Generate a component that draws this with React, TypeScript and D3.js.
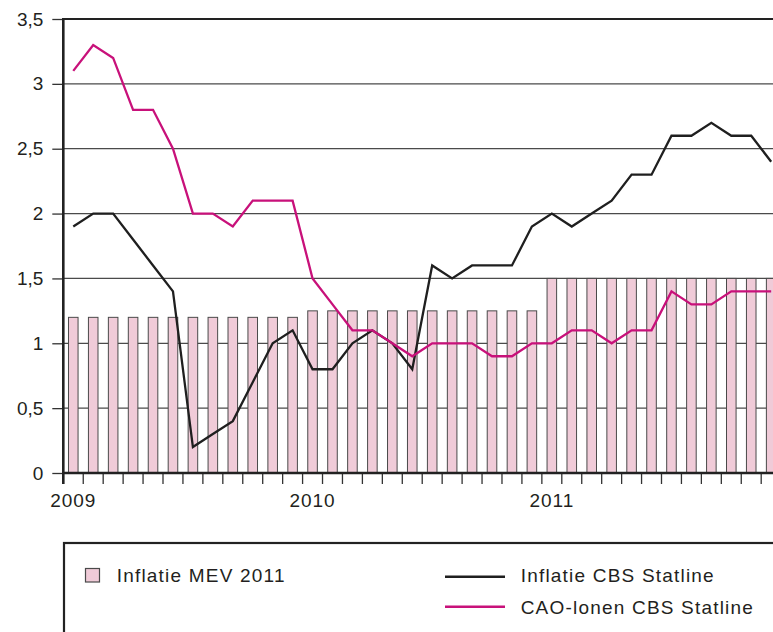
import React, { useEffect, useRef } from 'react';
import * as d3 from 'd3';

const years = ['2009', '2010', '2011'];
const monthNames = ['jan', 'feb', 'mrt', 'apr', 'mei', 'jun', 'jul', 'aug', 'sep', 'okt', 'nov', 'dec'];
const months = years.flatMap(y => monthNames.map(m => `${m} ${y}`));

// bars: Inflatie MEV 2011
const inflatieMev = [
  1.2, 1.2, 1.2, 1.2, 1.2, 1.2, 1.2, 1.2, 1.2, 1.2, 1.2, 1.2,
  1.25, 1.25, 1.25, 1.25, 1.25, 1.25, 1.25, 1.25, 1.25, 1.25, 1.25, 1.25,
  1.5, 1.5, 1.5, 1.5, 1.5, 1.5, 1.5, 1.5, 1.5, 1.5, 1.5, 1.5
];
// black line: Inflatie CBS Statline
const inflatieCbs = [
  1.9, 2.0, 2.0, 1.8, 1.6, 1.4, 0.2, 0.3, 0.4, 0.7, 1.0, 1.1,
  0.8, 0.8, 1.0, 1.1, 1.0, 0.8, 1.6, 1.5, 1.6, 1.6, 1.6, 1.9,
  2.0, 1.9, 2.0, 2.1, 2.3, 2.3, 2.6, 2.6, 2.7, 2.6, 2.6, 2.4
];
// magenta line: CAO-lonen CBS Statline
const caoLonen = [
  3.1, 3.3, 3.2, 2.8, 2.8, 2.5, 2.0, 2.0, 1.9, 2.1, 2.1, 2.1,
  1.5, 1.3, 1.1, 1.1, 1.0, 0.9, 1.0, 1.0, 1.0, 0.9, 0.9, 1.0,
  1.0, 1.1, 1.1, 1.0, 1.1, 1.1, 1.4, 1.3, 1.3, 1.4, 1.4, 1.4
];
const yTicks = [0, 0.5, 1, 1.5, 2, 2.5, 3, 3.5];

const seriesNames = ['Inflatie MEV 2011', 'Inflatie CBS Statline', 'CAO-lonen CBS Statline'];

const FONT = '"Liberation Sans", Arial, sans-serif';
const TEXT = '#231f20';
const PINK_FILL = '#f0cbd8';
const MAGENTA = '#c8117a';

const App = () => {
  const svgRef = useRef<SVGSVGElement>(null);

  useEffect(() => {
    const svg = d3.select(svgRef.current);
    svg.selectAll('*').remove();

    const left = 63.3;
    const step = 19.94;
    const top = 19;
    const bottom = 473;

    const x = d3.scaleBand<string>()
      .domain(months)
      .range([left, left + step * months.length])
      .padding(0);
    const y = d3.scaleLinear().domain([0, 3.5]).range([bottom, top]);
    const cx = (i: number) => x(months[i])! + x.bandwidth() / 2;

    // gridlines
    svg.append('g')
      .selectAll('line')
      .data(yTicks.filter(t => t > 0 && t < 3.5))
      .enter()
      .append('line')
      .attr('x1', left)
      .attr('x2', 773)
      .attr('y1', d => y(d))
      .attr('y2', d => y(d))
      .attr('stroke', '#4a4a4a')
      .attr('stroke-width', 1.3);

    // bars
    const bw = x.bandwidth() * 0.48;
    svg.append('g')
      .selectAll('rect')
      .data(inflatieMev)
      .enter()
      .append('rect')
      .attr('x', (d, i) => cx(i) - bw / 2)
      .attr('y', d => y(d))
      .attr('width', bw)
      .attr('height', d => y(0) - y(d))
      .attr('fill', PINK_FILL)
      .attr('stroke', '#4a4a4a')
      .attr('stroke-width', 1);

    // lines
    const line = d3.line<number>()
      .x((d, i) => cx(i))
      .y(d => y(d));

    svg.append('path')
      .datum(inflatieCbs)
      .attr('d', line)
      .attr('fill', 'none')
      .attr('stroke', '#1f1f1f')
      .attr('stroke-width', 2.3);

    svg.append('path')
      .datum(caoLonen)
      .attr('d', line)
      .attr('fill', 'none')
      .attr('stroke', MAGENTA)
      .attr('stroke-width', 2.3);

    // top frame line at 3,5
    svg.append('line')
      .attr('x1', left)
      .attr('x2', 773)
      .attr('y1', y(3.5))
      .attr('y2', y(3.5))
      .attr('stroke', '#222')
      .attr('stroke-width', 2.2);

    // y axis
    const yAxis = svg.append('g')
      .attr('transform', `translate(${left},0)`)
      .call(d3.axisLeft(y).tickValues(yTicks).tickSize(11).tickPadding(9)
        .tickFormat(d => String(d).replace('.', ',')));
    yAxis.select('.domain').remove();
    yAxis.selectAll('line').attr('stroke', '#333').attr('stroke-width', 1.3);
    yAxis.selectAll('text')
      .attr('font-family', FONT)
      .attr('font-size', 19)
      .attr('fill', TEXT);

    // x axis month ticks
    const xAxis = svg.append('g')
      .attr('transform', `translate(0,${bottom})`)
      .call(d3.axisBottom(x).tickSize(11).tickFormat(() => ''));
    xAxis.select('.domain').remove();
    xAxis.selectAll('.tick')
      .attr('transform', d => `translate(${x(d as string)},0)`);
    xAxis.selectAll('line').attr('stroke', '#333').attr('stroke-width', 1.3);

    // axis lines
    svg.append('line')
      .attr('x1', left)
      .attr('x2', 773)
      .attr('y1', bottom)
      .attr('y2', bottom)
      .attr('stroke', '#222')
      .attr('stroke-width', 2.4);
    svg.append('line')
      .attr('x1', left)
      .attr('x2', left)
      .attr('y1', top - 1)
      .attr('y2', bottom + 11)
      .attr('stroke', '#222')
      .attr('stroke-width', 2.6);

    // year labels
    svg.append('g')
      .selectAll('text')
      .data(years)
      .enter()
      .append('text')
      .attr('x', (d, i) => cx(i * 12))
      .attr('y', 507)
      .attr('text-anchor', 'middle')
      .attr('font-family', FONT)
      .attr('font-size', 19)
      .attr('letter-spacing', 1)
      .attr('fill', TEXT)
      .text(d => d);

    // legend
    const lg = svg.append('g');
    lg.append('rect')
      .attr('x', 64)
      .attr('y', 543)
      .attr('width', 800)
      .attr('height', 200)
      .attr('fill', 'none')
      .attr('stroke', '#222')
      .attr('stroke-width', 2.2);
    lg.append('rect')
      .attr('x', 85.5)
      .attr('y', 568.5)
      .attr('width', 14)
      .attr('height', 13.5)
      .attr('fill', PINK_FILL)
      .attr('stroke', '#4a4a4a')
      .attr('stroke-width', 1.2);
    const legendText = (tx: number, ty: number, s: string) =>
      lg.append('text')
        .attr('x', tx)
        .attr('y', ty)
        .attr('font-family', FONT)
        .attr('font-size', 19)
        .attr('letter-spacing', 1.2)
        .attr('fill', TEXT)
        .text(s);
    legendText(116.7, 582, seriesNames[0]);
    lg.append('line')
      .attr('x1', 445).attr('x2', 505)
      .attr('y1', 576.7).attr('y2', 576.7)
      .attr('stroke', '#1f1f1f').attr('stroke-width', 2.4);
    legendText(520.7, 582, seriesNames[1]);
    lg.append('line')
      .attr('x1', 445).attr('x2', 505)
      .attr('y1', 606.7).attr('y2', 606.7)
      .attr('stroke', MAGENTA).attr('stroke-width', 2.4);
    legendText(520.7, 614, seriesNames[2]);
  }, []);

  return (
    <svg
      ref={svgRef}
      width={773}
      height={632}
      style={{ position: 'absolute', left: 0, top: 0, background: '#fff', overflow: 'hidden' }}
    />
  );
};

export default App;
